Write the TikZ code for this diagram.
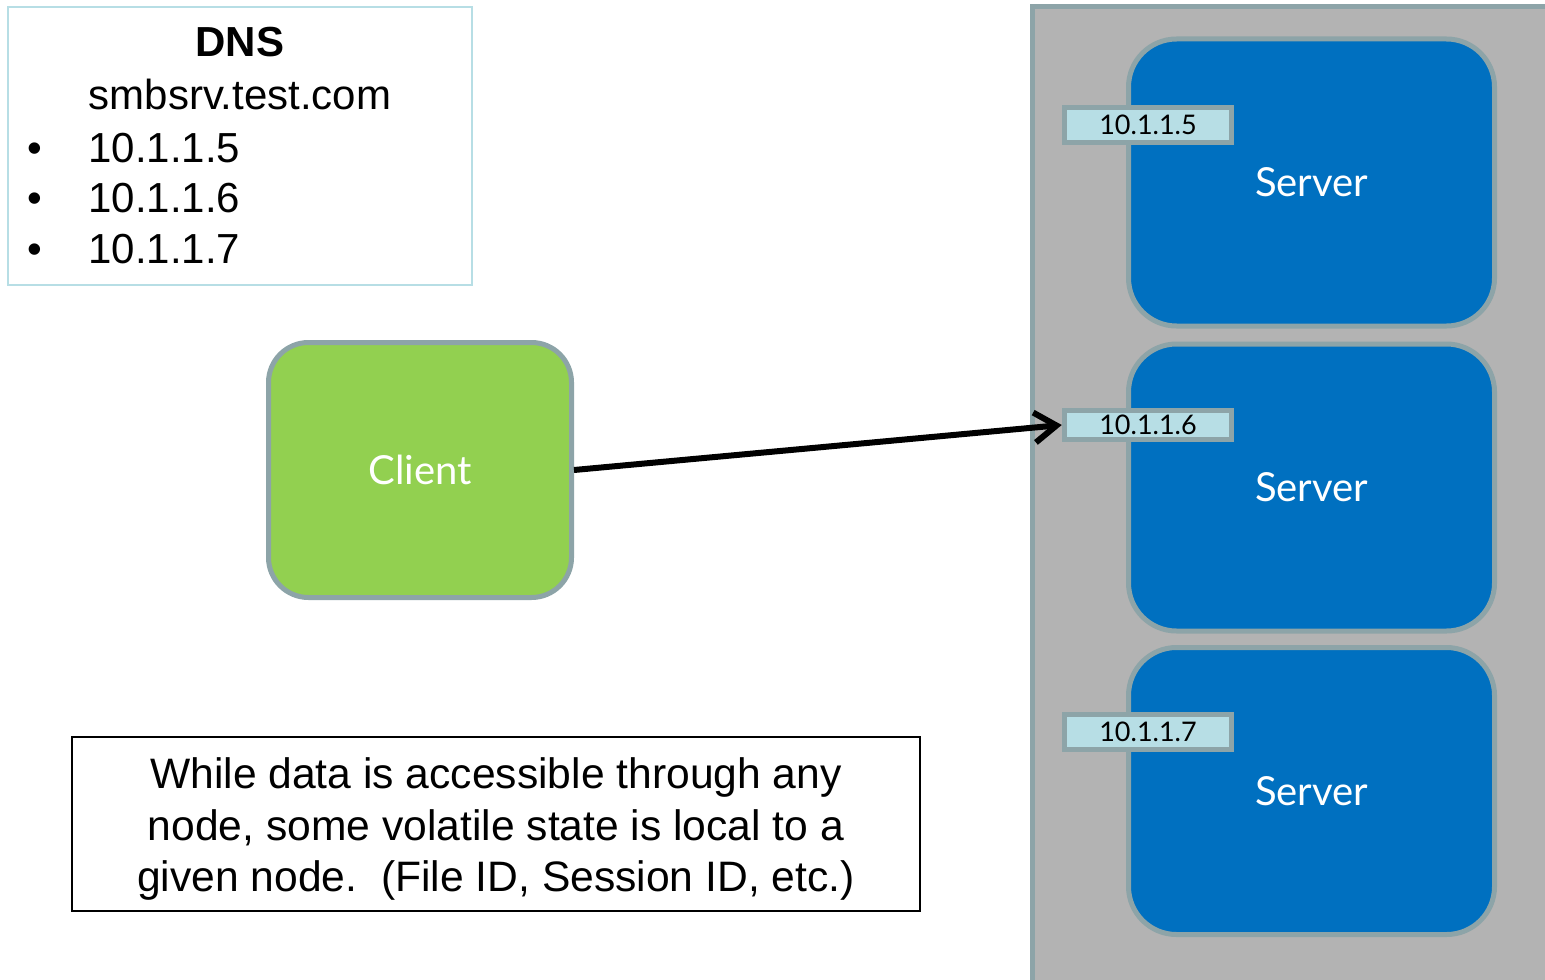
\documentclass[tikz,border=0pt]{standalone}
\usepackage{fontspec}
\setmainfont{Liberation Sans}
\newfontfamily\gillfont{Lato}
\usetikzlibrary{arrows.meta}

\definecolor{srvblue}{HTML}{0070C0}
\definecolor{clientgreen}{HTML}{92D050}
\definecolor{edgegray}{HTML}{8DA4A8}
\definecolor{panelgray}{HTML}{B3B3B3}
\definecolor{iplight}{HTML}{B7DEE5}

\begin{document}
\begin{tikzpicture}[x=0.5pt,y=-0.5pt,
  server/.style={draw=edgegray, line width=2.5pt, fill=srvblue, rounded corners=24pt,
    minimum width=183pt, minimum height=143.5pt, text=white, font=\gillfont\fontsize{20}{24}\selectfont},
  ipbox/.style={draw=edgegray, line width=2.5pt, fill=iplight, inner sep=0pt,
    minimum width=83.75pt, minimum height=17.5pt, font=\gillfont\fontsize{13.5}{16}\selectfont},
  bigtext/.style={anchor=base, inner sep=0pt, font=\fontsize{21}{25}\selectfont}]

\clip (0,0) rectangle (1545,979);
\fill[white] (0,0) rectangle (1545,979);

% Server farm
\draw[line width=2.5pt, draw=edgegray, fill=panelgray] (1032,6.5) rectangle (1580,1000);

\node[server] (srv5) at (1311.5,182.5) {Server};
\node[server] (srv6) at (1311.5,487.5) {Server};
\node[server] (srv7) at (1311.5,791) {Server};

\node[ipbox] (ip5) at (1148,125) {10.1.1.5};
\node[ipbox, minimum height=14.25pt] (ip6) at (1148,425) {10.1.1.6};
\node[ipbox] (ip7) at (1148,732) {10.1.1.7};

% Client
\node[draw=edgegray, line width=2.5pt, fill=clientgreen, rounded corners=20pt,
  minimum width=151.5pt, minimum height=127.5pt, text=white,
  font=\gillfont\fontsize{20}{24}\selectfont] (client) at (420,470) {Client};

\draw[line width=3pt, -{Straight Barb[length=11pt,width=15pt,line width=3pt]}] (client.east) -- (ip6.west);

% DNS record
\node[draw=iplight, line width=1pt, minimum width=232.25pt, minimum height=139pt] (dns) at (240,146) {};
\node[bigtext, font=\bfseries\fontsize{21}{25}\selectfont] (dnstitle) at (240,57) {DNS};
\node[bigtext] (dnsname) at (240,110) {smbsrv.test.com};
\foreach \ip/\y in {5/162,6/212,7/263}{
  \node[bigtext] (bullet\ip) at (35,\y) {\textbullet};
  \node[bigtext, anchor=base west] (addr\ip) at (88,\y) {10.1.1.\ip};
}

% Note
\node[draw, line width=1pt, minimum width=424pt, minimum height=87pt] (note) at (496,824) {};
\begin{scope}[bigtext/.append style={font=\fontsize{21.3}{25}\selectfont}]
\node[bigtext] (line1) at (496,788) {While data is accessible through any};
\node[bigtext] (line2) at (496,840) {node, some volatile state is local to a};
\node[bigtext] (line3) at (496,891) {given node.\ \ (File ID, Session ID, etc.)};
\end{scope}

\end{tikzpicture}
\end{document}
